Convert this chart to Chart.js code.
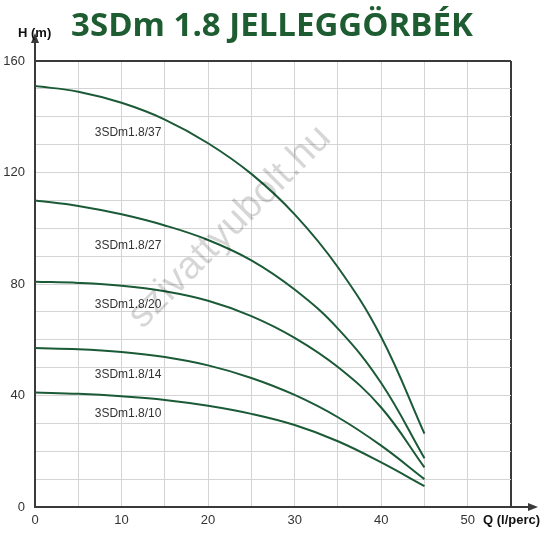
<!DOCTYPE html>
<html>
<head>
<meta charset="utf-8">
<script src="https://cdn.jsdelivr.net/npm/chart.js@4.4.0/dist/chart.umd.min.js"></script>
<style>
  html, body { margin: 0; padding: 0; background: #fff; }
  #wrap { width: 545px; height: 546px; }
</style>
</head>
<body>
<div id="wrap"><canvas id="myChart"></canvas></div>
<script>
// data
const flow = [0, 5, 10, 15, 20, 25, 30, 35, 40, 45];
const h37 = [151, 149, 145, 139, 130.5, 119.5, 105, 86, 61, 26.3];
const h27 = [110, 108, 105, 101, 95.8, 88.5, 78, 64, 44.5, 17.5];
const h20 = [80.8, 80.4, 79.4, 77.4, 74, 68.5, 60.7, 50.2, 35.7, 14.2];
const h14 = [57, 56.6, 55.6, 53.8, 50.8, 46.3, 40.2, 32.2, 22, 10];
const h10 = [41.1, 40.6, 39.7, 38.4, 36.3, 33.4, 29.4, 23.6, 16, 7.5];
const seriesNames = ['3SDm1.8/37', '3SDm1.8/27', '3SDm1.8/20', '3SDm1.8/14', '3SDm1.8/10'];
const xTicks = [0, 10, 20, 30, 40, 50];
const yTicks = [0, 40, 80, 120, 160];

const green = '#1b5a36';
const dark = '#3a3a3a';
const gridCol = '#d4d4d4';
const font = "'Liberation Sans', Arial, sans-serif";

function pts(arr) {
    return flow.map((q, i) => ({ x: q, y: arr[i] }));
}

// where the curve names sit (data units)
const labelPos = [[6.9, 134.4], [6.9, 93.9], [6.9, 72.4], [6.9, 47.3], [6.9, 33.3]];

const decor = {
    id: 'decor',
    afterDraw(chart) {
        const c = chart.ctx;
        const xs = chart.scales.x, ys = chart.scales.y;
        const x0 = xs.getPixelForValue(0), y0 = ys.getPixelForValue(0);
        const top = chart.chartArea.top, right = chart.chartArea.right;
        c.save();

        // watermark
        c.save();
        c.translate(230, 227);
        c.rotate(-Math.PI / 4);
        c.fillStyle = 'rgba(0,0,0,0.16)';
        c.font = "39px " + font;
        c.textAlign = 'center';
        c.textBaseline = 'middle';
        c.fillText('szivattyubolt.hu', 0, 0);
        c.restore();

        // curve names
        c.fillStyle = '#333';
        c.font = "12px " + font;
        c.textAlign = 'left';
        c.textBaseline = 'middle';
        seriesNames.forEach((n, i) => {
            c.fillText(n, xs.getPixelForValue(labelPos[i][0]), ys.getPixelForValue(labelPos[i][1]));
        });

        // axis arrows
        c.strokeStyle = dark;
        c.fillStyle = dark;
        c.lineWidth = 2;
        c.beginPath();
        c.moveTo(x0, top);
        c.lineTo(x0, 40);
        c.moveTo(right, y0);
        c.lineTo(531, y0);
        c.stroke();
        c.beginPath();
        c.moveTo(x0, 33); c.lineTo(x0 - 4, 43); c.lineTo(x0 + 4, 43); c.closePath();
        c.fill();
        c.beginPath();
        c.moveTo(538, y0); c.lineTo(528, y0 - 4); c.lineTo(528, y0 + 4); c.closePath();
        c.fill();

        // axis titles
        c.fillStyle = '#111';
        c.font = "bold 13px " + font;
        c.textAlign = 'left';
        c.textBaseline = 'middle';
        c.fillText('H (m)', 18, 33);
        c.fillText('Q (l/perc)', 483, 520);

        // title
        c.fillStyle = '#1e5c31';
        c.font = "bold 33px 'Open Sans', sans-serif";
        c.textAlign = 'center';
        c.textBaseline = 'alphabetic';
        c.fillText('3SDm 1.8 JELLEGGÖRBÉK', 272, 36);
        c.restore();
    }
};

const ctx = document.getElementById('myChart').getContext('2d');
const myChart = new Chart(ctx, {
    type: 'line',
    data: {
        datasets: [h37, h27, h20, h14, h10].map((arr, i) => ({
            label: seriesNames[i],
            data: pts(arr),
            borderColor: green,
            borderWidth: 2,
            pointRadius: 0,
            tension: 0.4,
            fill: false
        }))
    },
    options: {
        responsive: true,
        maintainAspectRatio: false,
        animation: false,
        layout: { padding: { top: 61, right: 34, left: 0, bottom: 0 } },
        plugins: {
            legend: { display: false },
            tooltip: { enabled: false }
        },
        scales: {
            x: {
                type: 'linear',
                min: 0,
                max: 55,
                afterFit(s) { s.height = 39; },
                ticks: {
                    stepSize: 5,
                    padding: 6,
                    color: '#333',
                    font: { family: font, size: 13 },
                    maxRotation: 0,
                    autoSkip: false,
                    callback: v => xTicks.includes(v) ? String(v) : ''
                },
                grid: {
                    drawTicks: false,
                    color: c => c.tick && c.tick.value === 55 ? dark : gridCol,
                    lineWidth: c => c.tick && c.tick.value === 55 ? 2 : 1
                },
                border: { color: dark, width: 2 }
            },
            y: {
                min: 0,
                max: 160,
                afterFit(s) { s.width = 35; },
                ticks: {
                    stepSize: 10,
                    padding: 10,
                    color: '#333',
                    font: { family: font, size: 13 },
                    autoSkip: false,
                    callback: v => yTicks.includes(v) ? String(v) : ''
                },
                grid: {
                    drawTicks: false,
                    color: c => c.tick && c.tick.value === 160 ? dark : gridCol,
                    lineWidth: c => c.tick && c.tick.value === 160 ? 2 : 1
                },
                border: { color: dark, width: 2 }
            }
        }
    },
    plugins: [decor]
});
</script>
</body>
</html>
